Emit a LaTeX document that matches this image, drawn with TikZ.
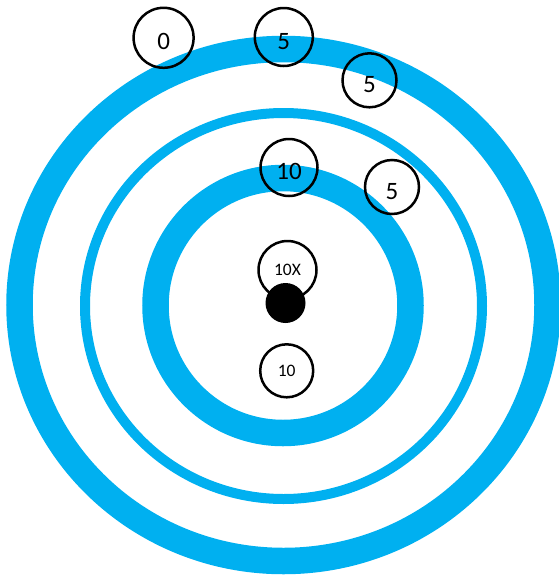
\documentclass[tikz,border=0pt]{standalone}
\usepackage{fontspec}
\setmainfont{Carlito}
\usepackage{tikz}
\definecolor{ringblue}{HTML}{00B0F0}
\tikzset{
  ring/.style={draw=ringblue},
  score/.style={circle,draw=black,line width=2.5pt,inner sep=0pt,
    font=\fontsize{25}{30}\selectfont,text height=24pt,text depth=0pt},
  scoresm/.style={circle,draw=black,line width=2.5pt,inner sep=0pt,
    font=\fontsize{17.5}{20}\selectfont},
}

\begin{document}
\begin{tikzpicture}[x=1pt,y=-1pt]
  \useasboundingbox (0,0) rectangle (559,579);
  \clip (0,0) rectangle (559,579);
  \draw[ring,line width=26.5pt] (283.5,305) ellipse [x radius=264,y radius=256];
  \draw[ring,line width=10pt] (283.5,306) ellipse [x radius=198.5,y radius=193];
  \draw[ring,line width=26.5pt] (283,305.5) circle [radius=127.5];
  \node[score,minimum size=60pt] (s0) at (163.6,37.8) {0};
  \node[score,minimum size=58pt] (s5top) at (283.8,37) {5};
  \node[score,minimum size=54pt] (s5a) at (369.5,80.3) {5};
  \node[score,minimum size=57pt] (s10) at (289,167.5) {10};
  \node[score,minimum size=54pt] (s5b) at (392,187) {5};
  \node[scoresm,minimum size=58pt] (s10x) at (287.5,270) {10X};
  \node[scoresm,minimum size=53pt] (s10in) at (286.7,370.8) {10};
  \fill (285.5,303) circle [radius=20];
\end{tikzpicture}
\end{document}
